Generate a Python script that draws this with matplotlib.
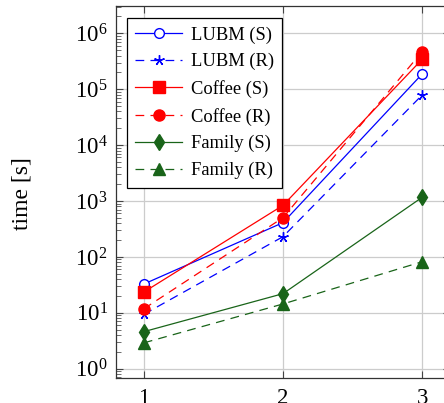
import matplotlib
matplotlib.use("Agg")
import matplotlib.pyplot as plt
import numpy as np

plt.rcParams['font.family'] = ['Liberation Serif', 'DejaVu Serif']
plt.rcParams['mathtext.fontset'] = 'custom'
plt.rcParams['mathtext.rm'] = 'Liberation Serif'
plt.rcParams['mathtext.it'] = 'Liberation Serif:italic'

x = [1, 2, 3]
lubm_s = [32.7, 410, 187000]
lubm_r = [9.4, 230, 78800]
coffee_s = [23.5, 836, 343000]
coffee_r = [11.8, 503, 470000]
family_s = [4.6, 22, 1164]
family_r = [2.9, 14.4, 82]
labels = ['LUBM (S)', 'LUBM (R)', 'Coffee (S)', 'Coffee (R)', 'Family (S)', 'Family (R)']

blue = '#0000ff'
red = '#ff0000'
green = '#196419'

fig = plt.figure(figsize=(4.44, 4.03), dpi=100)
ax = fig.add_axes([116/444, 25/403, 334/444, 372/403])

lw = 0.9
dash = (7, 5)
ax.plot(x, lubm_s, color=blue, lw=lw, marker='o', ms=7, mfc='white', mec=blue, mew=1.0, label=labels[0], zorder=3)
ax.plot(x, lubm_r, color=blue, lw=lw, dashes=dash, marker=(5, 2, 0), ms=7.5, mec=blue, mew=1.0, label=labels[1], zorder=3)
ax.plot(x, coffee_s, color=red, lw=lw, marker='s', ms=8.5, mfc=red, mec=red, label=labels[2], zorder=3)
ax.plot(x, coffee_r, color=red, lw=lw, dashes=dash, marker='o', ms=8, mfc=red, mec=red, label=labels[3], zorder=3)
ax.plot(x, family_s, color=green, lw=lw, marker='d', ms=8, mfc=green, mec=green, label=labels[4], zorder=3)
ax.plot(x, family_r, color=green, lw=lw, dashes=dash, marker='^', ms=8, mfc=green, mec=green, label=labels[5], zorder=3)

ax.set_yscale('log')
ax.set_xlim(0.8, 3.2)
ax.set_ylim(10**-0.166, 10**6.488)
ax.set_xticks(x)
ax.set_xticklabels(['1', '2', '3'])
ax.set_yticks([10.0**k for k in range(7)])
ax.set_yticklabels([r'$10^{%d}$' % k for k in range(7)])
ax.yaxis.set_minor_locator(matplotlib.ticker.LogLocator(base=10, subs=np.arange(2, 10), numticks=20))
ax.yaxis.set_minor_formatter(matplotlib.ticker.NullFormatter())

ax.tick_params(axis='both', which='major', direction='in', length=5, width=0.8, color='#444444',
               top=True, right=True, labelsize=16.5, pad=6)
ax.tick_params(axis='x', which='major', pad=7)
ax.tick_params(axis='y', which='minor', direction='in', length=3.5, width=0.6, color='#555555', right=True, left=True)
ax.grid(True, which='major', color='#cccccc', lw=0.9)
ax.set_axisbelow(True)
for s in ax.spines.values():
    s.set_linewidth(0.9)
    s.set_color('#333333')

ax.set_ylabel('time [s]', fontsize=17)
ax.yaxis.set_label_coords(-0.25, 0.495)

leg = ax.legend(loc='upper left', bbox_to_anchor=(0.033, 0.968), borderaxespad=0, fontsize=13.3,
                frameon=True, fancybox=False, edgecolor='black', framealpha=1,
                handlelength=2.55, handletextpad=0.45, labelspacing=0.52, borderpad=0.45)
leg.get_frame().set_linewidth(0.9)

fig.savefig('out.png', dpi=100)
